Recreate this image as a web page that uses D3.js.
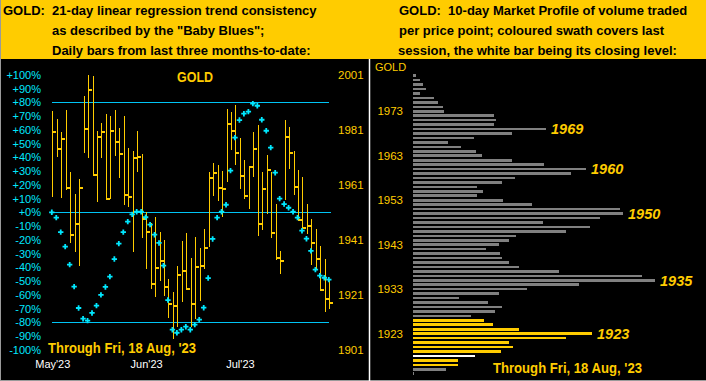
<!DOCTYPE html>
<html lang="en">
<head>
<meta charset="UTF-8">
<title>GOLD - Baby Blues and Market Profile</title>
<style>
    body { margin: 0; background: #000; }
    svg { display: block; font-family: Arial, "Liberation Sans", sans-serif; }
    .axis path, .axis line { display: none; }
</style>
</head>
<body>
<div id="chart"></div>
<script src="https://d3js.org/d3.v7.min.js"></script>
<script>
// daily bars, 19 May .. 18 Aug 2023
const barHigh = [1987.8,1984.8,1980.2,1988.2,1965.8,1957.7,1963.1,1993.3,2000.9,2000.6,1980.6,1983.4,1986.6,1986.1,1988.2,1981.5,1986.0,1974.4,1973.4,1980.6,1972.2,1951.2,1947.0,1949.4,1944.0,1940.9,1926.8,1922.2,1931.5,1940.6,1943.4,1934.3,1941.9,1938.1,1944.9,1965.7,1968.8,1968.2,1966.0,1988.4,1987.4,1990.1,1977.9,1970.0,1967.4,1980.2,1982.8,1965.8,1971.8,1965.5,1953.9,1936.9,1984.6,1981.9,1973.2,1966.4,1963.7,1954.0,1948.6,1944.8,1938.9,1934.0,1926.5];
const barLow = [1956.7,1971.2,1956.3,1959.1,1939.7,1936.7,1931.6,1972.5,1970.6,1964.6,1954.6,1970.9,1955.7,1955.8,1971.5,1963.6,1953.7,1953.1,1936.7,1965.8,1941.5,1930.3,1923.0,1920.3,1926.1,1920.7,1912.5,1904.8,1909.2,1918.5,1923.0,1909.4,1912.2,1918.9,1930.3,1938.3,1957.0,1955.1,1949.4,1962.0,1973.6,1968.2,1959.5,1955.8,1952.2,1963.7,1942.5,1944.6,1950.4,1941.5,1933.7,1928.6,1955.5,1966.6,1957.3,1948.0,1944.8,1943.1,1931.8,1930.0,1922.5,1914.9,1915.8];
const barClose = [1980.3,1974.0,1977.8,1960.0,1942.6,1946.9,1959.7,1981.4,1995.5,1964.7,1978.5,1980.3,1956.0,1980.7,1976.5,1972.3,1957.4,1956.5,1970.9,1971.2,1948.7,1944.0,1924.8,1930.9,1933.4,1924.0,1917.5,1917.1,1928.3,1929.8,1923.1,1917.8,1931.2,1931.6,1938.1,1963.6,1965.3,1960.0,1959.5,1983.0,1980.6,1972.7,1964.2,1957.0,1967.4,1973.9,1946.9,1959.4,1966.3,1943.6,1934.5,1933.4,1978.5,1972.4,1960.3,1948.2,1945.4,1946.2,1939.7,1934.0,1922.8,1919.6,1918.0];
// "Baby Blues": 21-day linear regression trend consistency (%)
const babyBlues = [0,-3.9,-14.4,-25.0,-38.1,-54.1,-69.6,-77.4,-78.8,-73.2,-67.9,-60.1,-54.3,-46.8,-34.0,-22.8,-14.4,-6.8,-1.5,0.4,0.4,-3.6,-9.0,-16.3,-22.3,-38.8,-63.8,-85.4,-87.6,-85.4,-83.2,-85.4,-81.7,-78.1,-69.4,-47.8,-19.4,-3.9,0.4,5.5,30.3,54.3,67.1,71.7,73.2,79.0,77.5,67.3,59.3,47.0,28.8,9.9,6.0,3.3,0.4,-3.9,-13.4,-19.2,-28.1,-41.7,-46.1,-47.6,-49.0];
const blueLevels = [80, 0, -80];
const monthTickIdx = [0, 21, 42];
const monthLabels = ["May'23", "Jun'23", "Jul'23"];
const priceTicks = [1901, 1921, 1941, 1961, 1981, 2001];

// 10-day market profile, one row per price point from 1981 down to 1914
const profileTop = 1981, profileBottom = 1914;
const profileVolume = [3,7,10,13,7,21,25,30,31,81,83,81,133,99,61,35,48,63,69,99,131,173,158,102,89,64,70,64,90,119,207,210,187,130,177,153,103,96,86,73,87,89,96,106,146,229,242,166,114,86,46,75,89,82,58,71,80,106,179,153,96,100,88,62,45,45,33,1];
const lastSessionLow = 1916, lastSessionHigh = 1926, lastClose = 1918;
const profileMarks = [1969, 1960, 1950, 1935, 1923];
const profileTicks = [1973, 1963, 1953, 1943, 1933, 1923];

const W = 706, H = 381;
const GOLD = "#ffcc00", CYAN = "#00e8ff", LINE = "#00c4f4";

const svg = d3.select("#chart").append("svg").attr("width", W).attr("height", H);
svg.append("rect").attr("width", W).attr("height", H).attr("fill", "#000");

// header
svg.append("rect").attr("width", W).attr("height", 59).attr("fill", GOLD);
const head = svg.append("g").attr("font-size", 13).attr("font-weight", "bold").attr("fill", "#000");
[["GOLD:  21-day linear regression trend consistency", 3, 14.5],
 ["as described by the \"Baby Blues\";", 52, 35],
 ["Daily bars from last three months-to-date:", 52, 55],
 ["GOLD:  10-day Market Profile of volume traded", 399, 14.5],
 ["per price point; coloured swath covers last", 399, 35],
 ["session, the white bar being its closing level:", 398, 55]
].forEach(([t, x, y]) => head.append("text").attr("x", x).attr("y", y).attr("xml:space", "preserve").text(t));

// frame
svg.append("line").attr("x1", 0.5).attr("x2", 0.5).attr("y1", 0).attr("y2", H).attr("stroke", "#9a9a9a");
svg.append("line").attr("x1", 0).attr("x2", W).attr("y1", 380.5).attr("y2", 380.5).attr("stroke", "#9a9a9a");
svg.append("line").attr("x1", 369.5).attr("x2", 369.5).attr("y1", 59).attr("y2", H).attr("stroke", "#fff").attr("stroke-width", 1.5);

// ---------- left panel ----------
const x = d3.scaleLinear().domain([0, barHigh.length - 1]).range([52.3, 329.3]);
const yPct = d3.scaleLinear().domain([-100, 100]).range([349.8, 74.8]);
const yPrice = d3.scaleLinear().domain([1901, 2001]).range([349.8, 74.8]);

function styleAxis(g, fill, size) {
    g.attr("font-family", null);
    g.selectAll("text").attr("fill", fill).attr("font-size", size);
}

svg.append("g").attr("class", "axis").attr("transform", "translate(41,0)")
    .call(d3.axisLeft(yPct).tickValues(d3.range(-100, 101, 10)).tickSize(0).tickPadding(0)
        .tickFormat(d => (d >= 0 ? "+" : "") + d + "%"))
    .call(g => styleAxis(g, CYAN, 11));

svg.append("g").attr("class", "axis").attr("transform", "translate(338,0)")
    .call(d3.axisRight(yPrice).tickValues(priceTicks).tickSize(0).tickPadding(0).tickFormat(d3.format("d")))
    .call(g => styleAxis(g, GOLD, 11.5));

svg.append("g").attr("class", "axis").attr("transform", "translate(0,360)")
    .call(d3.axisBottom(x).tickValues(monthTickIdx).tickSize(0).tickPadding(0)
        .tickFormat((d, i) => monthLabels[i]))
    .call(g => styleAxis(g, "#fff", 11));

svg.append("g").selectAll("line").data(blueLevels).join("line")
    .attr("x1", 52).attr("x2", d => d === 0 ? 331 : 329)
    .attr("y1", d => Math.round(yPct(d)) + 0.5).attr("y2", d => Math.round(yPct(d)) + 0.5)
    .attr("stroke", LINE).attr("stroke-width", 1.2);

svg.append("text").attr("x", 177).attr("y", 82).attr("fill", GOLD)
    .attr("font-size", 14).attr("font-weight", "bold").attr("textLength", 36)
    .attr("lengthAdjust", "spacingAndGlyphs").text("GOLD");

const bars = svg.append("g").attr("shape-rendering", "crispEdges");
bars.selectAll("line.hl").data(barHigh).join("line").attr("class", "hl")
    .attr("x1", (d, i) => Math.round(x(i)) + 0.5).attr("x2", (d, i) => Math.round(x(i)) + 0.5)
    .attr("y1", d => yPrice(d)).attr("y2", (d, i) => yPrice(barLow[i]))
    .attr("stroke", GOLD).attr("stroke-width", 1.2);
bars.selectAll("rect.cl").data(barClose).join("rect").attr("class", "cl")
    .attr("x", (d, i) => Math.round(x(i)))
    .attr("y", d => yPrice(d) - 1).attr("width", 4).attr("height", 2)
    .attr("fill", GOLD);

svg.append("g").selectAll("path").data(babyBlues).join("path")
    .attr("d", d3.symbol(d3.symbolCross, 16))
    .attr("transform", (d, i) => `translate(${x(i) - 0.5},${yPct(d)})`)
    .attr("fill", CYAN);

svg.append("text").attr("x", 48).attr("y", 353).attr("fill", GOLD)
    .attr("font-size", 14.5).attr("font-weight", "bold").attr("textLength", 148)
    .attr("lengthAdjust", "spacingAndGlyphs").text("Through Fri, 18 Aug, '23");

// ---------- right panel ----------
const profPrices = d3.range(profileTop, profileBottom - 1, -1);
const yProf = d3.scaleLinear().domain([profileBottom, profileTop]).range([373.7, 75.7]);
const xVol = d3.scaleLinear().domain([0, d3.max(profileVolume)]).range([0, 242]);
const x0 = 413;

svg.append("text").attr("x", 375).attr("y", 71).attr("fill", GOLD).attr("font-size", 11).text("GOLD");

svg.append("g").attr("class", "axis").attr("transform", "translate(403,0)")
    .call(d3.axisLeft(yProf).tickValues(profileTicks).tickSize(0).tickPadding(0).tickFormat(d3.format("d")))
    .call(g => styleAxis(g, GOLD, 11.5));

svg.append("g").attr("shape-rendering", "crispEdges")
    .selectAll("rect").data(profPrices).join("rect")
    .attr("x", x0).attr("y", d => yProf(d) - 1.3)
    .attr("width", (d, i) => Math.max(1, xVol(profileVolume[i])))
    .attr("height", 2.6)
    .attr("fill", d => d === lastClose ? "#fff"
        : (d >= lastSessionLow && d <= lastSessionHigh ? GOLD : "#808080"));

svg.append("g").selectAll("text").data(profileMarks).join("text")
    .attr("x", d => x0 + xVol(profileVolume[profPrices.indexOf(d)]) + 5)
    .attr("y", d => yProf(d)).attr("dy", "0.36em")
    .attr("fill", GOLD).attr("font-size", 14.5).attr("font-weight", "bold")
    .attr("font-style", "italic").text(d => d);

svg.append("text").attr("x", 493).attr("y", 372.5).attr("fill", GOLD)
    .attr("font-size", 14.5).attr("font-weight", "bold").attr("textLength", 149)
    .attr("lengthAdjust", "spacingAndGlyphs").text("Through Fri, 18 Aug, '23");
</script>
</body>
</html>
